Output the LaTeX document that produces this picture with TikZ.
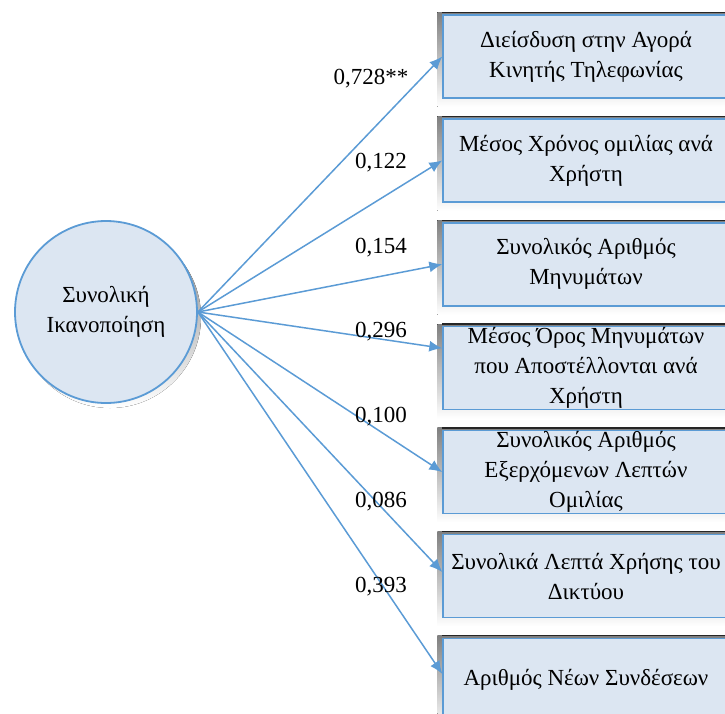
\documentclass[tikz,border=0pt]{standalone}
\usepackage{fontspec}
\setmainfont{Liberation Serif}
\newfontfamily\grserif{Liberation Serif}
\usetikzlibrary{positioning,arrows.meta,backgrounds}

\definecolor{boxfill}{RGB}{220,230,242}
\definecolor{boxline}{RGB}{91,155,213}
\definecolor{shade}{RGB}{163,163,163}

\begin{document}
\begin{tikzpicture}[x=0.5pt, y=-0.5pt, >={Latex[length=6.5pt,width=5.5pt]},
                    main node/.style={circle,draw=boxline,fill=boxfill,line width=0.9pt,
                      minimum size=91pt,inner sep=0pt,align=center,font=\grserif\fontsize{11.5}{15}\selectfont},
                    var node/.style={rectangle,draw=boxline,fill=boxfill,line width=0.7pt,
                      minimum width=143pt,minimum height=41.5pt,inner sep=0pt,align=center,
                      font=\grserif\fontsize{11.5}{15}\selectfont},
                    coef/.style={inner sep=0pt,font=\grserif\fontsize{11.5}{14}\selectfont}]
  \useasboundingbox (0,0) rectangle (725,714);

  \node[main node] (sat) at (106,312) {Συνολική\\Ικανοποίηση};

  \node[var node] (b1) at (586,56.5) {Διείσδυση στην Αγορά\\Κινητής Τηλεφωνίας};
  \node[var node] (b2) [below=9.75pt of b1] {Μέσος Χρόνος ομιλίας ανά\\Χρήστη};
  \node[var node] (b3) [below=9.75pt of b2] {Συνολικός Αριθμός\\Μηνυμάτων};
  \node[var node] (b4) [below=9.75pt of b3] {Μέσος Όρος Μηνυμάτων\\που Αποστέλλονται ανά\\Χρήστη};
  \node[var node] (b5) [below=9.75pt of b4] {Συνολικός Αριθμός\\Εξερχόμενων Λεπτών\\Ομιλίας};
  \node[var node] (b6) [below=9.75pt of b5] {Συνολικά Λεπτά Χρήσης του\\Δικτύου};
  \node[var node] (b7) [below=9.75pt of b6] {Αριθμός Νέων Συνδέσεων};

  % shadows behind the boxes and the circle
  \begin{pgfonlayer}{background}
    \fill[shade] ([xshift=2pt,yshift=-2.5pt]sat.center) circle[radius=45.5pt];
    \foreach \b in {b1,b2,b3,b4,b5,b6,b7} {
      \fill[shade] ([xshift=-2.5pt,yshift=1pt]\b.north west) rectangle ([yshift=-4pt]\b.south east);
      \draw[black!85,line width=0.6pt] ([yshift=1pt]\b.north west) -- ([yshift=1pt]\b.north east);
    }
  \end{pgfonlayer}

  \path[->,boxline,line width=0.75pt]
    (sat.east) edge (b1.west)
    (sat.east) edge (b2.west)
    (sat.east) edge (b3.west)
    (sat.east) edge ([yshift=10pt]b4.west)
    (sat.east) edge (b5.west)
    (sat.east) edge ([yshift=2pt]b6.west)
    (sat.east) edge ([yshift=3pt]b7.west);

  \node[coef] (c1) at (371,79) {0,728**};
  \node[coef] (c2) at (381,163) {0,122};
  \node[coef] (c3) at (381,248) {0,154};
  \node[coef] (c4) at (381,332) {0,296};
  \node[coef] (c5) at (381,417) {0,100};
  \node[coef] (c6) at (381,502) {0,086};
  \node[coef] (c7) at (381,587) {0,393};
\end{tikzpicture}
\end{document}
